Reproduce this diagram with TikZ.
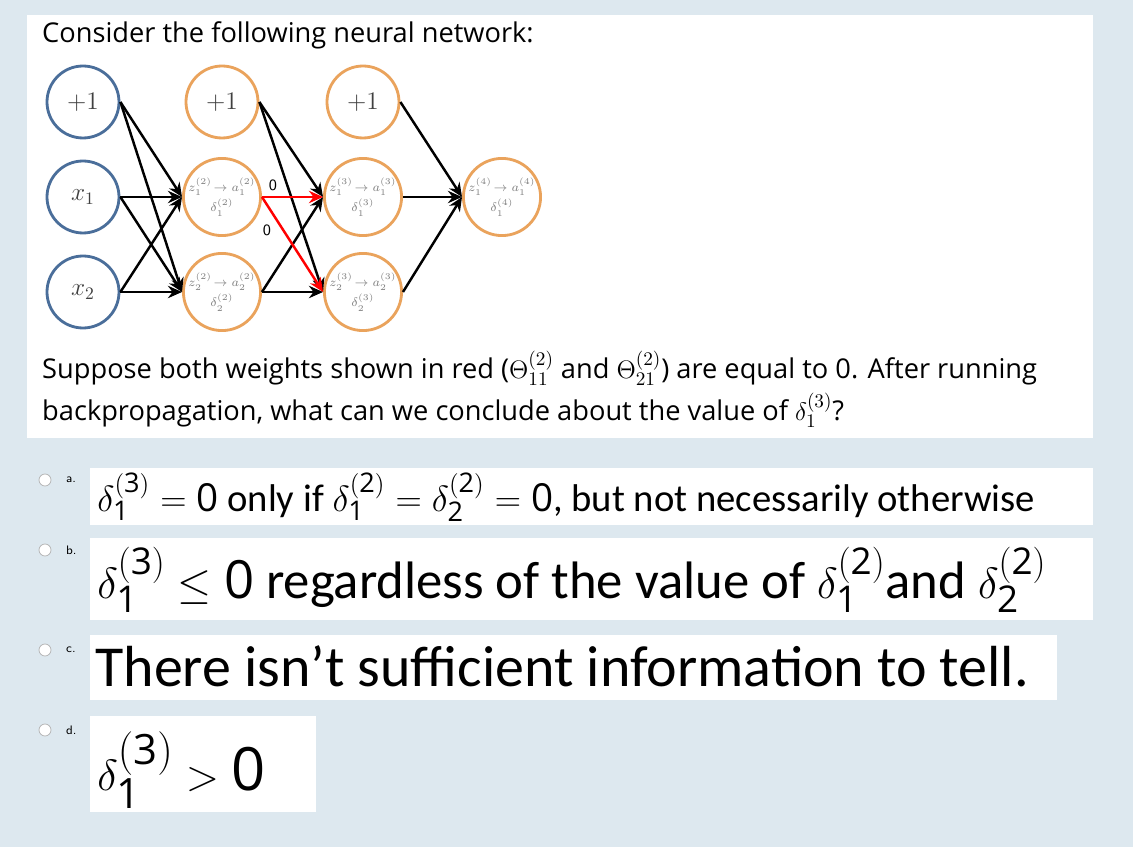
\documentclass[tikz,border=0pt]{standalone}
\usepackage{fontspec}
\setmainfont{Open Sans}
\newfontfamily\optfont{Carlito}
\usetikzlibrary{arrows.meta}
\definecolor{panelbg}{HTML}{DDE8EF}
\definecolor{inblue}{HTML}{4A6E9A}
\definecolor{hidorange}{HTML}{EAA35C}
\tikzset{
  unit/.style={circle, draw, line width=1.6pt, minimum size=72\pxu, inner sep=0pt, font=\fontsize{7}{8}\selectfont\color{gray}},
  inunit/.style={unit, draw=inblue, font=\fontsize{14}{14}\selectfont\rmfamily\color{darkgray}},
  hidunit/.style={unit, draw=hidorange},
  biasunit/.style={unit, draw=hidorange, font=\fontsize{14}{14}\selectfont\rmfamily\color{darkgray}},
  wire/.style={-{Stealth[length=8pt,width=7pt]}, line width=1.4pt},
  redwire/.style={wire, red},
  opt/.style={anchor=west, inner sep=0pt, font=\optfont},
  radio/.style={circle, draw=gray!60, fill=white, minimum size=12\pxu, inner sep=0pt},
  qtext/.style={anchor=west, font=\fontsize{15.5}{17}\selectfont},
}
\newcommand{\pxu}{*0.02cm}
\newcommand{\od}[1]{\mathrm{\optfont #1}}
\begin{document}
\begin{tikzpicture}[x=0.02cm, y=-0.02cm]
\useasboundingbox (0,0) rectangle (1133,847);
\fill[panelbg] (0,0) rectangle (1133,847);
\fill[white] (27,15) rectangle (1093,438);
\fill[white] (90,468) rectangle (1093,525);
\fill[white] (90,538) rectangle (1093,620);
\fill[white] (90,635) rectangle (1057,700);
\fill[white] (90,716) rectangle (316,812);
\node[qtext] (title) at (36,35) {Consider the following neural network:};
% layer 1
\node[inunit] (b1) at (83,102) {$+1$};
\node[inunit] (x1) at (83,197) {$x_1$};
\node[inunit] (x2) at (83,292) {$x_2$};
% layer 2
\node[biasunit] (b2) at (222,102) {$+1$};
\node[hidunit, align=center] (h21) at (222,197) {$z_1^{(2)}\!\to a_1^{(2)}$\\[1pt]$\delta_1^{(2)}$};
\node[hidunit, align=center] (h22) at (222,292) {$z_2^{(2)}\!\to a_2^{(2)}$\\[1pt]$\delta_2^{(2)}$};
% layer 3
\node[biasunit] (b3) at (363,102) {$+1$};
\node[hidunit, align=center] (h31) at (363,197) {$z_1^{(3)}\!\to a_1^{(3)}$\\[1pt]$\delta_1^{(3)}$};
\node[hidunit, align=center] (h32) at (363,292) {$z_2^{(3)}\!\to a_2^{(3)}$\\[1pt]$\delta_2^{(3)}$};
% output
\node[hidunit, align=center] (o41) at (502,197) {$z_1^{(4)}\!\to a_1^{(4)}$\\[1pt]$\delta_1^{(4)}$};
\foreach \s in {b1,x1,x2}
  \foreach \t in {h21,h22}
    \draw[wire] (\s.east) -- (\t.west);
\foreach \s in {b2,h22}
  \foreach \t in {h31,h32}
    \draw[wire] (\s.east) -- (\t.west);
\draw[redwire] (h21.east) -- (h31.west);
\draw[redwire] (h21.east) -- (h32.west);
\foreach \s in {b3,h31,h32}
  \draw[wire] (\s.east) -- (o41.west);
\node[font=\sffamily\small] (w1) at (273,185) {0};
\node[font=\sffamily\small] (w2) at (267,230) {0};
% question
\node[qtext] (q1) at (36,368) {Suppose both weights shown in red ($\Theta_{11}^{(2)}$ and $\Theta_{21}^{(2)}$) are equal to 0. After running};
\node[qtext] (q2) at (36,410) {backpropagation, what can we conclude about the value of $\delta_1^{(3)}$?};
% options
\foreach \y/\l in {480/a, 550/b, 650/c, 730/d} {
  \node[radio] (r\l) at (45,\y) {};
  \node[font=\sffamily\fontsize{7}{8}\selectfont, anchor=west] (l\l) at (60,\y) {\l.};
}
\node[opt, font=\optfont\fontsize{22}{26}\selectfont] (oa) at (97,497) {$\delta_{\od1}^{\od{(3)}}=\od0$ only if $\delta_{\od1}^{\od{(2)}}=\delta_{\od2}^{\od{(2)}}=\od0$, but not necessarily otherwise};
\node[opt, font=\optfont\fontsize{30}{32}\selectfont] (ob) at (97,580) {$\delta_{\od1}^{\od{(3)}}\le \od0$ regardless of the value of $\delta_{\od1}^{\od{(2)}}$and $\delta_{\od2}^{\od{(2)}}$};
\node[opt, font=\optfont\fontsize{33}{34}\selectfont] (oc) at (95,666) {There isn’t sufficient information to tell.};
\node[opt, font=\optfont\fontsize{34}{36}\selectfont] (od) at (97,770) {$\delta_{\od1}^{\od{(3)}}>\od0$};
\end{tikzpicture}
\end{document}
